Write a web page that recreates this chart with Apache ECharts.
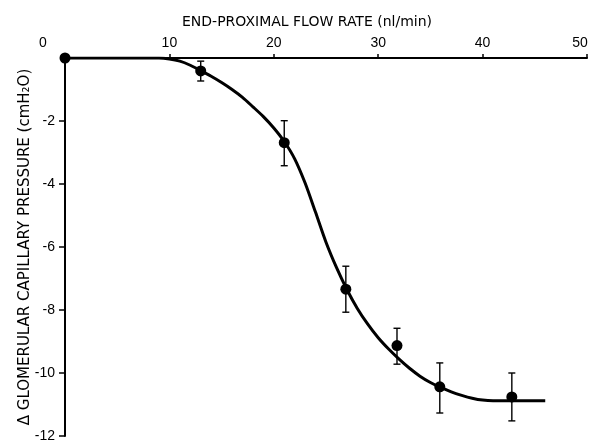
<!DOCTYPE html>
<html>
<head>
<meta charset="utf-8">
<script src="https://cdn.jsdelivr.net/npm/echarts@6/dist/echarts.min.js"></script>
<style>
html,body{margin:0;padding:0;background:#fff;}
#chart{width:597px;height:443px;}
</style>
</head>
<body>
<div id="chart"></div>
<script>
// Measured points (end-proximal flow rate, Δ glomerular capillary pressure)
const flowRate = [0, 13.0, 21.0, 26.9, 31.8, 35.9, 42.8];
const pressure = [0, -0.41, -2.69, -7.34, -9.13, -10.44, -10.76];
const errUpper = [0, -0.10, -1.99, -6.61, -8.58, -9.68, -10.00];
const errLower = [0, -0.73, -3.42, -8.07, -9.72, -11.27, -11.52];

// Fitted curve
const fitX = [0, 3, 6, 9, 10, 11, 12, 13, 14, 15, 16, 17, 18, 19, 20, 21, 22, 23, 24, 25, 26, 27, 28, 29, 30, 31, 32, 33, 34, 35, 36, 37, 38, 39, 40, 41, 43, 46];
const fitY = [0, 0, 0, 0, -0.03, -0.1, -0.23, -0.4, -0.58, -0.78, -1.0, -1.25, -1.55, -1.86, -2.22, -2.65, -3.2, -3.97, -4.9, -5.85, -6.65, -7.35, -7.95, -8.45, -8.88, -9.24, -9.56, -9.85, -10.1, -10.3, -10.46, -10.6, -10.71, -10.8, -10.86, -10.88, -10.88, -10.88];

// Axis ticks
const xTicks = [0, 10, 20, 30, 40, 50];
const yTicks = [-12, -10, -8, -6, -4, -2, 0];

const xTitle = 'END-PROXIMAL FLOW RATE (nl/min)';
const yTitle = 'Δ GLOMERULAR CAPILLARY PRESSURE (cmH₂O)';

const chart = echarts.init(document.getElementById('chart'), null, {renderer: 'canvas'});
const tickFont = '"Liberation Sans", Arial, sans-serif';
const titleFont = '"DejaVu Sans", sans-serif';

const pointData = flowRate.map((x, i) => [x, pressure[i]]);
const errData = flowRate.map((x, i) => [x, errUpper[i], errLower[i]]);
const fitData = fitX.map((x, i) => [x, fitY[i]]);

chart.setOption({
  animation: false,
  backgroundColor: '#ffffff',
  grid: {left: 65, right: 10, top: 58, bottom: 6, containLabel: false},
  xAxis: {
    type: 'value',
    position: 'top',
    min: xTicks[0], max: xTicks[xTicks.length - 1], interval: 10,
    name: xTitle,
    nameLocation: 'middle',
    nameGap: 29,
    nameMoveOverlap: false,
    nameTextStyle: {fontFamily: titleFont, fontSize: 14, color: '#000', padding: [0, 38, 0, 0]},
    axisLine: {show: true, onZero: false, lineStyle: {color: '#000', width: 2}},
    axisTick: {show: true, inside: false, length: 4, lineStyle: {color: '#000', width: 1.5}},
    splitLine: {show: false},
    axisLabel: {
      margin: 8,
      color: '#000',
      fontFamily: tickFont,
      fontSize: 14,
      formatter: function (v) {
        if (v === 0) return '{z|0}';
        if (v === 50) return '{f|50}';
        return String(v);
      },
      rich: {
        z: {padding: [0, 44, 0, 0], fontFamily: tickFont, fontSize: 14, color: '#000'},
        f: {padding: [0, 14, 0, 0], fontFamily: tickFont, fontSize: 14, color: '#000'}
      }
    }
  },
  yAxis: {
    type: 'value',
    min: yTicks[0], max: yTicks[yTicks.length - 1], interval: 2,
    name: yTitle,
    nameLocation: 'middle',
    nameGap: 32,
    nameRotate: 90,
    nameMoveOverlap: false,
    nameTextStyle: {fontFamily: titleFont, fontSize: 15, color: '#000'},
    axisLine: {show: true, onZero: false, lineStyle: {color: '#000', width: 2}},
    axisTick: {show: true, inside: false, length: 6, lineStyle: {color: '#000', width: 1.5}},
    splitLine: {show: false},
    axisLabel: {
      margin: 10,
      color: '#000',
      fontFamily: tickFont,
      fontSize: 14,
      showMaxLabel: false,
      formatter: function (v) { return v === 0 ? '' : String(v); }
    }
  },
  series: [
    {
      type: 'line',
      data: fitData,
      showSymbol: false,
      smooth: 0.25,
      lineStyle: {color: '#000', width: 3},
      z: 2
    },
    {
      type: 'custom',
      data: errData,
      z: 3,
      renderItem: function (params, api) {
        const x = api.value(0), hi = api.value(1), lo = api.value(2);
        if (hi === lo) return null;
        const t = api.coord([x, hi]);
        const b = api.coord([x, lo]);
        const w = 3.5;
        const st = {stroke: '#000', lineWidth: 1.4};
        return {
          type: 'group',
          children: [
            {type: 'line', shape: {x1: t[0], y1: t[1], x2: b[0], y2: b[1]}, style: st},
            {type: 'line', shape: {x1: t[0] - w, y1: t[1], x2: t[0] + w, y2: t[1]}, style: st},
            {type: 'line', shape: {x1: b[0] - w, y1: b[1], x2: b[0] + w, y2: b[1]}, style: st}
          ]
        };
      }
    },
    {
      type: 'scatter',
      data: pointData,
      symbol: 'circle',
      symbolSize: 11,
      itemStyle: {color: '#000', opacity: 1},
      z: 4
    }
  ]
});
</script>
</body>
</html>
